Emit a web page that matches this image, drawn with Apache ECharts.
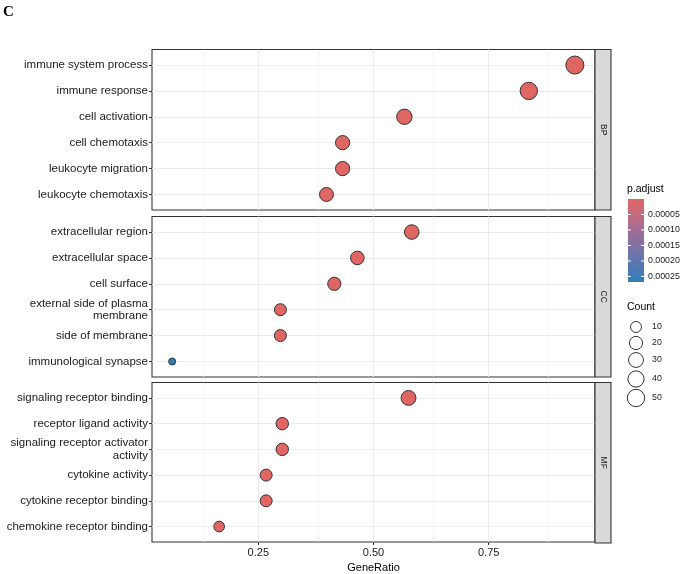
<!DOCTYPE html>
<html>
<head>
<meta charset="utf-8">
<script src="https://cdn.jsdelivr.net/npm/echarts@6/dist/echarts.min.js"></script>
<style>
html,body{margin:0;padding:0;background:#fff;}
#chart{width:685px;height:574px;}
</style>
</head>
<body>
<div id="chart"></div>
<script>
// ---------- data ----------
const panels = ['BP', 'CC', 'MF'];

const bpTerms = ['immune system process', 'immune response', 'cell activation',
  'cell chemotaxis', 'leukocyte migration', 'leukocyte chemotaxis'];
const bpRatio = [0.937, 0.837, 0.567, 0.433, 0.433, 0.398];
const bpCount = [56, 50, 34, 26, 26, 24];
const bpPadj  = [1.2e-12, 3.4e-11, 2.1e-9, 4.5e-8, 6.0e-8, 9.0e-8];

const ccTerms = ['extracellular region', 'extracellular space', 'cell surface',
  'external side of plasma\nmembrane', 'side of membrane', 'immunological synapse'];
const ccRatio = [0.583, 0.465, 0.415, 0.298, 0.298, 0.063];
const ccCount = [28, 22, 20, 14, 14, 3];
const ccPadj  = [3.0e-8, 5.0e-7, 8.0e-7, 2.0e-6, 3.0e-6, 0.000268];

const mfTerms = ['signaling receptor binding', 'receptor ligand activity',
  'signaling receptor activator\nactivity', 'cytokine activity',
  'cytokine receptor binding', 'chemokine receptor binding'];
const mfRatio = [0.576, 0.302, 0.302, 0.267, 0.267, 0.165];
const mfCount = [30, 16, 16, 14, 14, 9];
const mfPadj  = [1.0e-9, 2.0e-7, 2.5e-7, 4.0e-7, 5.0e-7, 1.5e-6];

const xTickValues = [0.25, 0.50, 0.75];
const xMinorValues = [0.125, 0.375, 0.625, 0.875];
const pTickValues = [0.00005, 0.00010, 0.00015, 0.00020, 0.00025];
const countBreaks = [10, 20, 30, 40, 50];

// ---------- derived ----------
const terms = [bpTerms, ccTerms, mfTerms];
const ratios = [bpRatio, ccRatio, mfRatio];
const counts = [bpCount, ccCount, mfCount];
const padjs = [bpPadj, ccPadj, mfPadj];

const allR = ratios.flat(), allC = counts.flat(), allP = padjs.flat();
const rMin = Math.min(...allR), rMax = Math.max(...allR);
const xMin = rMin - 0.05 * (rMax - rMin), xMax = rMax + 0.05 * (rMax - rMin);
const cMin = Math.min(...allC), cMax = Math.max(...allC);
const pMin = Math.min(...allP), pMax = Math.max(...allP);
function sizeFor(c) { return 7 + 11 * Math.sqrt(Math.max(0, (c - cMin) / (cMax - cMin))); }

const gradColors = ['#e06663', '#b96b85', '#8b6f9f', '#5f76b0', '#327eba'];

const chart = echarts.init(document.getElementById('chart'), null, {renderer: 'canvas'});

const panelTops = [49.5, 216.5, 382.5];
const panelH = 160.5;
const gridLeft = 152, gridRight = 685 - 595;
const FONT = 'Liberation Sans, Arial, Helvetica, sans-serif';
const yCenters = [1, 2, 3, 4, 5, 6];

const grids = [], xAxes = [], yAxes = [], series = [];
panels.forEach((p, k) => {
  const last = k === panels.length - 1;
  grids.push({left: gridLeft, right: gridRight, top: panelTops[k], height: panelH,
    show: true, borderColor: '#333', borderWidth: 1.1, backgroundColor: '#fff'});
  xAxes.push({gridIndex: k, type: 'value', min: xMin, max: xMax,
    axisLine: {show: false}, splitLine: {show: false},
    axisTick: {show: last, customValues: xTickValues, length: 3, lineStyle: {color: '#333'}},
    axisLabel: {show: last, customValues: xTickValues, formatter: v => v.toFixed(2),
      color: '#1a1a1a', fontSize: 11, fontFamily: FONT, margin: 5},
    name: last ? 'GeneRatio' : '', nameLocation: 'middle', nameGap: 20,
    nameTextStyle: {color: '#000', fontSize: 11, fontFamily: FONT}});
  const t = terms[k];
  yAxes.push({gridIndex: k, type: 'value', min: 0.4, max: 6.6,
    axisLine: {show: false}, splitLine: {show: false},
    axisTick: {show: true, customValues: yCenters, length: 3, lineStyle: {color: '#333'}},
    axisLabel: {customValues: yCenters, formatter: v => t[6 - Math.round(v)],
      color: '#1a1a1a', fontSize: 11.5, fontFamily: FONT, margin: 4, lineHeight: 12.5, align: 'right'}});
  const data = t.map((name, i) => [ratios[k][i], 6 - i, counts[k][i], padjs[k][i], name]);
  series.push({type: 'scatter', xAxisIndex: k, yAxisIndex: k, z: 3,
    data: data,
    symbolSize: v => sizeFor(v[2]),
    itemStyle: {borderColor: '#333', borderWidth: 1, opacity: 1},
    markLine: {silent: true, z: 1, symbol: ['none', 'none'], label: {show: false},
      animation: false,
      data: [
        ...yCenters.map(v => ({yAxis: v, lineStyle: {color: '#ebebeb', width: 1, type: 'solid'}})),
        ...xTickValues.map(v => ({xAxis: v, lineStyle: {color: '#ebebeb', width: 1, type: 'solid'}})),
        ...xMinorValues.map(v => ({xAxis: v, lineStyle: {color: '#f0f0f0', width: 0.7, type: 'solid'}}))
      ]}
  });
});

// ---------- graphics: strips, legends, label ----------
const graphics = [];
graphics.push({type: 'text', left: 3, top: 5,
  style: {text: 'C', font: 'bold 15px "Liberation Serif", "Times New Roman", serif', fill: '#000'}});
panels.forEach((p, k) => {
  const top = panelTops[k];
  graphics.push({type: 'rect', shape: {x: 595, y: top, width: 16, height: panelH},
    style: {fill: '#d9d9d9', stroke: '#333', lineWidth: 1.1}, z: 10});
  graphics.push({type: 'text', x: 603, y: top + panelH / 2, rotation: -Math.PI / 2,
    style: {text: p, font: '8.5px ' + FONT, fill: '#1a1a1a', textAlign: 'center', textVerticalAlign: 'middle'}, z: 11});
});
// colour bar
const cbX = 628, cbTop = 199, cbH = 83, cbW = 16;
graphics.push({type: 'text', x: 627, y: 184, style: {text: 'p.adjust', font: '10.5px ' + FONT, fill: '#000'}});
graphics.push({type: 'rect', shape: {x: cbX, y: cbTop, width: cbW, height: cbH},
  style: {fill: new echarts.graphic.LinearGradient(0, 0, 0, 1,
    gradColors.map((c, i) => ({offset: i / (gradColors.length - 1), color: c})))}});
pTickValues.forEach(v => {
  const y = cbTop + (v - pMin) / (pMax - pMin) * cbH;
  graphics.push({type: 'line', shape: {x1: cbX, y1: y, x2: cbX + 3, y2: y}, style: {stroke: '#fff', lineWidth: 1}});
  graphics.push({type: 'line', shape: {x1: cbX + cbW - 3, y1: y, x2: cbX + cbW, y2: y}, style: {stroke: '#fff', lineWidth: 1}});
  graphics.push({type: 'text', x: 648, y: y, style: {text: v.toFixed(5), font: '8.8px ' + FONT, fill: '#1a1a1a', textVerticalAlign: 'middle'}});
});
// size legend
graphics.push({type: 'text', x: 627, y: 302, style: {text: 'Count', font: '10.5px ' + FONT, fill: '#000'}});
const keyY = [327, 343, 360, 379, 398];
countBreaks.forEach((c, i) => {
  graphics.push({type: 'circle', shape: {cx: 636, cy: keyY[i], r: sizeFor(c) / 2},
    style: {fill: 'none', stroke: '#333', lineWidth: 1}});
  graphics.push({type: 'text', x: 652, y: keyY[i], style: {text: String(c), font: '8.8px ' + FONT, fill: '#1a1a1a', textVerticalAlign: 'middle'}});
});

chart.setOption({
  animation: false,
  backgroundColor: '#fff',
  grid: grids,
  xAxis: xAxes,
  yAxis: yAxes,
  visualMap: {show: false, type: 'continuous', dimension: 3, min: pMin, max: pMax,
    seriesIndex: [0, 1, 2], inRange: {color: gradColors}},
  series: series,
  graphic: graphics
});
</script>
</body>
</html>
